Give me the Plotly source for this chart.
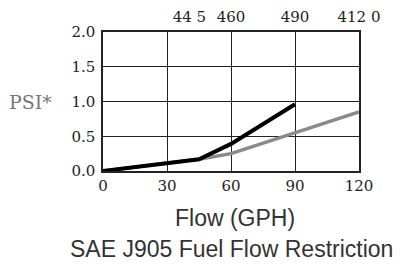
import plotly.graph_objects as go

flow_black = [0, 30, 45, 60, 90]
psi_black = [0, 0.12, 0.17, 0.39, 0.96]
flow_gray = [0, 30, 45, 60, 90, 120]
psi_gray = [0, 0.12, 0.17, 0.25, 0.55, 0.85]

bottom_ticks = [0, 30, 60, 90, 120]
bottom_labels = ["0", "30", "60", "90", "120"]
top_ticks = [40.5, 60, 90, 120]
top_labels = ["44 5", "460", "490", "412 0"]
y_ticks = [0, 0.5, 1.0, 1.5, 2.0]
y_labels = ["0.0", "0.5", "1.0", "1.5", "2.0"]

tick_font = dict(family="DejaVu Serif", size=15, color="#222")

fig = go.Figure()
fig.add_trace(go.Scatter(x=flow_gray, y=psi_gray, mode="lines",
                         line=dict(color="#8a8a8a", width=3.5), showlegend=False))
fig.add_trace(go.Scatter(x=flow_black, y=psi_black, mode="lines",
                         line=dict(color="#000000", width=4), showlegend=False))
fig.add_trace(go.Scatter(x=[None], y=[None], xaxis="x2", showlegend=False))

# page body has an 8px margin, so the figure is drawn 8px smaller and shifted
fig.update_layout(
    width=397, height=258,
    margin=dict(l=95, r=46, t=24, b=95, autoexpand=False),
    paper_bgcolor="white", plot_bgcolor="white",
    xaxis=dict(range=[0, 120], tickvals=bottom_ticks, ticktext=bottom_labels,
               showgrid=True, gridcolor="#222", gridwidth=1,
               showline=True, linecolor="#222", linewidth=1.5, mirror=True,
               ticks="", zeroline=False, tickfont=tick_font, automargin=False),
    xaxis2=dict(range=[0, 120], tickvals=top_ticks, ticktext=top_labels,
                overlaying="x", side="top", showgrid=False, showline=False,
                ticks="", zeroline=False, tickfont=tick_font, ticklabelstandoff=6,
                automargin=False),
    yaxis=dict(range=[0, 2.0], tickvals=y_ticks, ticktext=y_labels,
               showgrid=True, gridcolor="#222", gridwidth=1,
               showline=True, linecolor="#222", linewidth=1.5, mirror=True,
               ticks="", zeroline=False, tickfont=tick_font, ticklabelstandoff=3,
               automargin=False),
)

fig.add_annotation(text="PSI*", xref="paper", yref="y", x=-0.283, y=1.0,
                   xanchor="center", yanchor="middle", showarrow=False,
                   font=dict(family="DejaVu Serif", size=19, color="#777"))
fig.add_annotation(text="Flow (GPH)", xref="paper", yref="paper", x=0.516, y=-0.338,
                   xanchor="center", yanchor="middle", showarrow=False,
                   font=dict(family="Liberation Sans", size=23, color="#333"))
fig.add_annotation(text="SAE J905 Fuel Flow Restriction", xref="paper", yref="paper",
                   x=0.502, y=-0.561, xanchor="center", yanchor="middle", showarrow=False,
                   font=dict(family="Liberation Sans", size=23, color="#333"))

fig.write_html("out.html")
